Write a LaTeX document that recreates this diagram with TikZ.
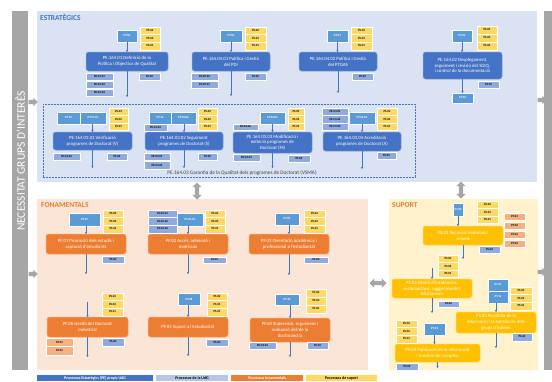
\documentclass[tikz,border=0pt]{standalone}
\usepackage{fontspec}
\setmainfont{Carlito}
\usetikzlibrary{shapes.arrows,arrows.meta}
\definecolor{pblue}{HTML}{4472C4}
\definecolor{ptblue}{HTML}{5B9BD5}
\definecolor{ylw}{HTML}{FFD966}
\definecolor{lblue}{HTML}{8FAADC}
\definecolor{porange}{HTML}{ED7D31}
\definecolor{lorange}{HTML}{F4B183}
\definecolor{psup}{HTML}{FFC000}
\definecolor{bgest}{HTML}{DAE3F3}
\definecolor{bgfon}{HTML}{FBE5D6}
\definecolor{bgsup}{HTML}{FFF2CC}
\definecolor{gbar}{HTML}{A6A6A6}
\definecolor{lgblue}{HTML}{B4C7E7}
\newcommand\bx[7]{\node[#1, minimum width={(#5-#3)*1pt}, minimum height={(#6-#4)*1pt}] (#2) at ({(#3+#5)/2},{(#4+#6)/2}) {#7};}
\begin{document}
\begin{tikzpicture}[x=1pt,y=-1pt,
  sbox/.style={inner sep=0pt, outer sep=0pt, draw=white, line width=0.3pt, font=\fontsize{3}{3}\selectfont\bfseries},
  ylwbox/.style={sbox, fill=ylw},
  lbbox/.style={sbox, fill=lblue},
  lobox/.style={sbox, fill=lorange},
  ptbox/.style={sbox, fill=ptblue, text=white},
  proc/.style={inner sep=0.5pt, outer sep=0pt, rounded corners=2.5pt, draw=white!35!#1, line width=0.5pt, fill=#1, text=white, align=center, font=\fontsize{4.8}{5.8}\selectfont},
  title/.style={anchor=north west, inner sep=0pt, font=\fontsize{7.5}{8}\selectfont\bfseries},
  conn/.style={draw=pblue, line width=0.5pt, -{Stealth[length=2.2pt,width=2.2pt]}},
  grpbox/.style={draw=pblue, dash pattern=on 2pt off 1pt, line width=0.5pt, inner sep=0pt},
  darr/.style={double arrow, fill=gbar, inner sep=2pt, double arrow head extend=2.5pt, minimum height=17pt},
  sarr/.style={single arrow, fill=gbar, inner sep=2pt, single arrow head extend=2pt, minimum height=9pt},
  legend/.style={inner sep=0pt, font=\fontsize{4}{4}\selectfont\bfseries}
]
\useasboundingbox (0,0) rectangle (552,381);

% side bars
\fill[gbar] (12,11) rectangle (28,370);
\fill[gbar] (544,11) rectangle (552,370);
\node[rotate=90, text=white, font=\fontsize{11.5}{12}\selectfont, inner sep=0pt] (necess) at (20,161) {NECESSITAT GRUPS D'INTERÈS};

% panels
\fill[bgest] (37,11) rectangle (537,182);
\fill[bgfon] (37,199) rectangle (368,370);
\fill[bgsup] (389,199) rectangle (538,370);
\node[title, text=pblue] (tE) at (40,14) {ESTRATÈGICS};
\node[title, text=porange] (tF) at (41,202) {FONAMENTALS};
\node[title, text=porange] (tS) at (392,202) {SUPORT};

% gray arrows
\node[sarr] (aL1) at (32,102) {};
\node[sarr] (aL2) at (32,274) {};
\node[sarr] (aR1) at (541,100) {};
\node[sarr] (aR2) at (541,272) {};
\node[darr, rotate=90] (dEF) at (197,191) {};
\node[darr, rotate=90] (dES) at (461,190) {};
\node[darr] (dFS) at (378,283) {};

% ===== ESTRATEGICS top row
\bx{proc=pblue}{p1}{86}{52}{168}{71}{PE.164.01 Definició de la\\Política i Objectius de Qualitat}
\bx{ptbox}{pt1}{117}{30}{137}{42}{PT.01}
\bx{ylwbox}{y1a}{140}{27}{160}{34.5}{PS.02}
\bx{ylwbox}{y1b}{140}{34.5}{160}{42}{PS.03}
\bx{ylwbox}{y1c}{140}{42}{160}{50}{PS.01}
\bx{lbbox}{b1a}{86}{73}{113}{80.5}{PE.05.01}
\bx{lbbox}{b1b}{86}{81}{113}{88.5}{PE.05.02}
\bx{lbbox}{b1c}{86}{89}{113}{96.5}{PE.05.03}
\bx{lbbox}{b1d}{139}{73}{160}{80}{PS.02}
\coordinate (c1) at (127,97);

\bx{proc=pblue}{p2}{192}{52}{270}{71}{PE.164.04.01 Política i Gestió\\del PDI}
\bx{ptbox}{pt2}{220}{30}{242}{42}{PT.01}
\bx{ylwbox}{y2a}{245}{27}{266}{34.5}{PS.02}
\bx{ylwbox}{y2b}{245}{34.5}{266}{42}{PS.03}
\bx{ylwbox}{y2c}{245}{42}{266}{50}{PS.01}
\bx{lbbox}{b2a}{191}{73}{218}{80.5}{PS.09.02}
\bx{lbbox}{b2b}{191}{81}{218}{88.5}{PS.09.01}
\bx{lbbox}{b2c}{245}{73}{266}{80}{PS.02}
\coordinate (c2) at (231,96);

\bx{proc=pblue}{p3}{299}{52}{377}{71}{PE.164.04.02 Política i Gestió\\del PTGAS}
\bx{ptbox}{pt3}{327}{30}{348}{42}{PT.01}
\bx{ylwbox}{y3a}{351}{27}{372}{34.5}{PS.02}
\bx{ylwbox}{y3b}{351}{34.5}{372}{42}{PS.03}
\bx{ylwbox}{y3c}{351}{42}{372}{50}{PS.01}
\bx{lbbox}{b3a}{352}{73}{373}{80}{PS.02}
\coordinate (c3) at (338,93);

\bx{proc=pblue}{p4}{423}{52}{502}{79}{PE.164.02 Desplegament,\\seguiment i revisió del SGIQ,\\i control de la documentació}
\bx{ptbox}{pt4}{452}{30}{472}{42}{PT.01}
\bx{ylwbox}{y4a}{477}{26}{497}{34}{PS.01}
\bx{ylwbox}{y4b}{477}{34}{497}{42}{PS.03}
\bx{ylwbox}{y4c}{477}{42}{497}{50}{PS.04}
\bx{lbbox}{b4a}{478}{81}{499}{88}{PS.02}
\bx{ptbox}{pt4b}{452}{93}{473}{103}{PT.02}

\draw[conn] (pt1.south) -- (pt1.south |- p1.north);
\draw[conn] (p1.south) -- (c1);
\draw[conn] (pt2.south) -- (pt2.south |- p2.north);
\draw[conn] (p2.south) -- (c2);
\draw[conn] (pt3.south) -- (pt3.south |- p3.north);
\draw[conn] (p3.south -| c3) -- (c3);
\draw[conn] (pt4.south) -- (pt4.south |- p4.north);
\draw[conn] (p4.south -| pt4b.north) -- (pt4b.north);

% ===== dashed group
\bx{grpbox}{grp}{43}{104}{415}{177}{}
\node[inner sep=0pt, font=\fontsize{5.3}{6}\selectfont, text=black!75] (grplbl) at (242,173) {PE.164.03 Garantia de la Qualitat dels programes de Doctorat (VSMA)};

\bx{proc=pblue}{pA}{53}{132}{132}{150}{PE.164.03.01 Verificació\\programes de Doctorat (V)}
\bx{ptbox}{ptA1}{57}{112}{80}{124}{PT.10}
\bx{ptbox}{ptA2}{80}{112}{106}{124}{PT.01.01}
\bx{ylwbox}{yAa}{109}{108}{128}{115.5}{PS.03}
\bx{ylwbox}{yAb}{109}{115.5}{128}{123}{PS.02}
\bx{ylwbox}{yAc}{109}{123}{128}{130}{PS.01}
\bx{lbbox}{bAa}{53}{153}{80}{160}{PE.03.02}
\bx{lbbox}{bAb}{107}{153}{127}{160}{PS.02}
\coordinate (cA) at (92.5,168);

\bx{proc=pblue}{pB}{145}{132}{223}{150}{PE.164.03.02 Seguiment\\programes de Doctorat (S)}
\bx{ptbox}{ptB1}{149}{112}{171}{124}{PT.10}
\bx{ptbox}{ptB2}{171}{112}{196}{124}{PT.03.02}
\bx{lbbox}{bBt}{144}{124.5}{167}{131}{PE.03.03}
\bx{ylwbox}{yBa}{198}{108}{217}{115.5}{PS.03}
\bx{ylwbox}{yBb}{198}{115.5}{217}{123}{PS.02}
\bx{ylwbox}{yBc}{198}{123}{217}{130}{PS.01}
\bx{lbbox}{bBa}{144}{153}{170}{160.5}{PE.03.01}
\bx{lbbox}{bBb}{144}{161.5}{170}{169}{PE.03.05}
\bx{lbbox}{bBc}{198}{153}{217}{160}{PS.02}
\coordinate (cB) at (184,168);

\bx{proc=pblue}{pC}{233}{132}{312}{153}{PE.164.03.03 Modificació i\\extinció programes de\\Doctorat (M)}
\bx{ptbox}{ptC}{260}{112}{285}{124}{PT.03.03}
\bx{lbbox}{bCt}{233}{124}{258}{130}{PE.03.02}
\bx{ylwbox}{yCa}{288}{108}{304}{115.5}{PS.03}
\bx{ylwbox}{yCb}{288}{115.5}{304}{123}{PS.02}
\bx{ylwbox}{yCc}{288}{123}{304}{130}{PS.01}
\bx{lbbox}{bCa}{233}{154.5}{260}{161}{PE.03.01}
\bx{lbbox}{bCb}{288}{155}{310}{162}{PS.02}
\coordinate (cC) at (272.5,168);

\bx{proc=pblue}{pD}{323}{132}{401}{151}{PE.164.03.04 Acreditació\\programes de Doctorat (A)}
\bx{ptbox}{ptD}{349}{112}{375}{124}{PT.03.01}
\bx{lbbox}{bDa}{322}{108}{348}{115.5}{PE.03.01}
\bx{lbbox}{bDb}{322}{115.5}{348}{123}{PE.03.02}
\bx{lbbox}{bDc}{322}{123}{348}{130}{PE.03.03}
\bx{ylwbox}{yDa}{377}{108}{397}{115.5}{PS.03}
\bx{ylwbox}{yDb}{377}{115.5}{397}{123}{PS.02}
\bx{ylwbox}{yDc}{377}{123}{397}{130}{PS.01}
\bx{lbbox}{bDd}{377}{152}{396}{159}{PS.02}
\coordinate (cD) at (362,169);

\draw[conn] (ptA2.south -| pA.north) -- (pA.north);
\draw[conn] (pA.south) -- (cA);
\draw[conn] (ptB2.south -| pB.north) -- (pB.north);
\draw[conn] (pB.south) -- (cB);
\draw[conn] (ptC.south) -- (ptC.south |- pC.north);
\draw[conn] (pC.south) -- (cC);
\draw[conn] (ptD.south) -- (ptD.south |- pD.north);
\draw[conn] (pD.south) -- (cD);

% ===== FONAMENTALS
\bx{proc=porange}{f1}{46}{234}{126}{254}{PF.01 Promoció dels estudis i\\captació d'estudiants}
\bx{ptbox}{ptF1}{69}{213}{100}{226}{PT.07}
\bx{ylwbox}{yF1a}{103}{210}{123}{217.5}{PS.02}
\bx{ylwbox}{yF1b}{103}{217.5}{123}{225}{PS.03}
\bx{ylwbox}{yF1c}{103}{225}{123}{233}{PS.01}
\bx{lbbox}{bF1}{102}{256}{124}{263}{PS.03}
\coordinate (cF1) at (86,274);

\bx{proc=porange}{f2}{148}{234}{228}{254}{PF.02 Accés, admissió i\\matrícula}
\bx{lbbox}{bF2a}{148}{210}{177}{217.5}{PS.03.01}
\bx{lbbox}{bF2b}{148}{217.5}{177}{225}{PS.03.02}
\bx{lbbox}{bF2c}{148}{225}{177}{233}{PS.03.03}
\bx{ptbox}{ptF2}{177}{213}{203}{226}{PT.01.01}
\bx{ylwbox}{yF2a}{205}{210}{225}{217.5}{PS.02}
\bx{ylwbox}{yF2b}{205}{217.5}{225}{225}{PS.03}
\bx{ylwbox}{yF2c}{205}{225}{225}{233}{PS.01}
\bx{lbbox}{bF2d}{203}{257}{226}{263}{PS.03}
\coordinate (cF2) at (188,274);

\bx{proc=porange}{f3}{249}{234}{329}{254}{PF.03 Orientació acadèmica i\\professional a l'estudiantat}
\bx{ptbox}{ptF3}{275}{213}{299}{225}{PT.05}
\bx{ylwbox}{yF3a}{304}{210}{325}{217.5}{PS.02}
\bx{ylwbox}{yF3b}{304}{217.5}{325}{225}{PS.03}
\bx{ylwbox}{yF3c}{304}{225}{325}{233}{PS.01}
\bx{lbbox}{bF3}{304}{257}{328}{263}{PS.03}
\coordinate (cF3) at (289,275);

\bx{proc=porange}{f6}{47}{317}{128}{337}{PF.06 Gestió del Doctorat\\Industrial}
\bx{ylwbox}{yF6a}{102}{293}{123}{300.5}{PS.02}
\bx{ylwbox}{yF6b}{102}{300.5}{123}{308}{PS.03}
\bx{ylwbox}{yF6c}{102}{308}{123}{316}{PS.01}
\bx{lobox}{oF6a}{46}{338}{73}{346.5}{PF.01}
\bx{lobox}{oF6b}{46}{346.5}{73}{355}{PF.01}
\bx{lbbox}{bF6}{102}{338}{124}{346}{PS.03}
\coordinate (iF6) at (87.5,302);
\coordinate (cF6) at (87.5,357);

\bx{proc=porange}{f5}{148}{317}{228}{337}{PF.05 Suport a l'estudiantat}
\bx{ptbox}{ptF5}{178}{293}{200}{305}{PT.08}
\bx{ylwbox}{yF5a}{207}{293}{227}{300.5}{PS.02}
\bx{ylwbox}{yF5b}{207}{300.5}{227}{308}{PS.03}
\bx{ylwbox}{yF5c}{207}{308}{227}{316}{PS.01}
\bx{lbbox}{bF5}{206}{339}{228}{346}{PS.03}
\coordinate (cF5) at (188,356);

\bx{proc=porange}{f4}{250}{318}{330}{342}{PF.04 Supervisió, seguiment i\\avaluació del/de la\\doctorand/a}
\bx{ptbox}{ptF4}{275}{294}{299}{305}{PT.10}
\bx{ylwbox}{yF4a}{306}{289}{326}{297}{PS.02}
\bx{ylwbox}{yF4b}{306}{297}{326}{305}{PS.03}
\bx{ylwbox}{yF4c}{306}{305}{326}{313}{PS.01}
\bx{lbbox}{bF4a}{249}{342.5}{276}{349}{PE.03.03}
\bx{lbbox}{bF4b}{307}{342.5}{328}{349}{PS.03}
\coordinate (cF4) at (290,357);

\draw[conn] (ptF1.south -| f1.north) -- (f1.north);
\draw[conn] (f1.south) -- (cF1);
\draw[conn] (ptF2.south -| f2.north) -- (f2.north);
\draw[conn] (f2.south) -- (cF2);
\draw[conn] (ptF3.south -| f3.north) -- (f3.north);
\draw[conn] (f3.south) -- (cF3);
\draw[conn] (iF6) -- (f6.north);
\draw[conn] (f6.south) -- (cF6);
\draw[conn] (ptF5.south -| f5.north) -- (f5.north);
\draw[conn] (f5.south) -- (cF5);
\draw[conn] (ptF4.south -| f4.north) -- (f4.north);
\draw[conn] (f4.south) -- (cF4);

% ===== SUPORT
\bx{proc=psup}{s1}{423}{226}{503}{245}{PS.01 Recursos materials i\\serveis}
\bx{ptbox}{ptS1}{453}{203}{463}{216}{PT.20}
\bx{ylwbox}{yS1a}{477}{201}{498}{208.5}{PS.02}
\bx{ylwbox}{yS1b}{477}{208.5}{498}{216}{PS.03}
\bx{ylwbox}{yS1c}{477}{216}{498}{223}{PS.01}
\bx{lobox}{oS1a}{504}{213}{525}{220.5}{PF.01}
\bx{lobox}{oS1b}{504}{222}{525}{229.5}{PF.02}
\bx{lobox}{oS1c}{504}{231}{525}{238.5}{PF.03}
\bx{lobox}{oS1d}{504}{240}{525}{247.5}{PF.04}
\bx{lbbox}{bS1}{479}{246}{500}{253}{PS.02}
\coordinate (cS1) at (463,259);

\bx{proc=psup}{s2}{392}{279}{472}{298}{PS.02 Gestió d'incidències,\\reclamacions, suggeriments i\\felicitacions}
\bx{ylwbox}{yS2a}{438}{255}{458}{262.5}{PS.03}
\bx{ylwbox}{yS2b}{438}{262.5}{458}{270}{PS.02}
\bx{ylwbox}{yS2c}{438}{270}{458}{277}{PS.01}
\bx{lbbox}{bS2}{438}{301}{459}{307}{PS.02}
\coordinate (iS2) at (432,268);
\coordinate (cS2) at (432,313);

\bx{proc=psup}{s3}{456}{312}{536}{333}{PS.03 Recollida de la\\informació i la Satisfacció dels\\grups d'interès}
\bx{ptbox}{ptS3a}{488}{279}{508}{291}{PT.11}
\bx{ptbox}{ptS3b}{488}{291}{508}{303}{PT.12}
\bx{ylwbox}{yS3a}{510}{287}{532}{294.5}{PS.03}
\bx{ylwbox}{yS3b}{510}{294.5}{532}{302}{PS.02}
\bx{ylwbox}{yS3c}{510}{302}{532}{310}{PS.01}
\bx{lbbox}{bS3}{512}{333}{532}{341}{PS.02}
\coordinate (cS3) at (496,348);

\bx{proc=psup}{s4}{395}{344}{480}{362}{PS.04 Publicació de la informació\\i rendició de comptes}
\bx{ptbox}{ptS4}{424}{323}{445}{335}{PT.03}
\bx{ylwbox}{yS4a}{396}{320}{417}{327.5}{PS.03}
\bx{ylwbox}{yS4b}{396}{327.5}{417}{335}{PS.02}
\bx{ylwbox}{yS4c}{396}{335}{417}{343}{PS.01}
\bx{lbbox}{bS4}{396}{363}{418}{370}{PS.02}
\coordinate (cS4) at (437.5,368);

\draw[conn] (ptS1.south) -- (ptS1.south |- s1.north);
\draw[conn] (s1.south) -- (cS1);
\draw[conn] (iS2) -- (s2.north);
\draw[conn] (s2.south) -- (cS2);
\draw[conn] (ptS3b.south -| s3.north) -- (s3.north);
\draw[conn] (s3.south) -- (cS3);
\draw[conn] (ptS4.south) -- (ptS4.south |- s4.north);
\draw[conn] (s4.south) -- (cS4);

% ===== legend
\bx{legend, fill=pblue, text=white}{lg1}{37}{375}{153}{381}{Processos Estratègics (PE) propis UdG}
\bx{legend, fill=lgblue, text=black}{lg2}{156}{375}{228}{381}{Processos de la UdG}
\bx{legend, fill=porange, text=white}{lg3}{231}{375}{303}{381}{Processos fonamentals}
\bx{legend, fill=ylw, text=black}{lg4}{306}{375}{377}{381}{Processos de suport}
\end{tikzpicture}
\end{document}
